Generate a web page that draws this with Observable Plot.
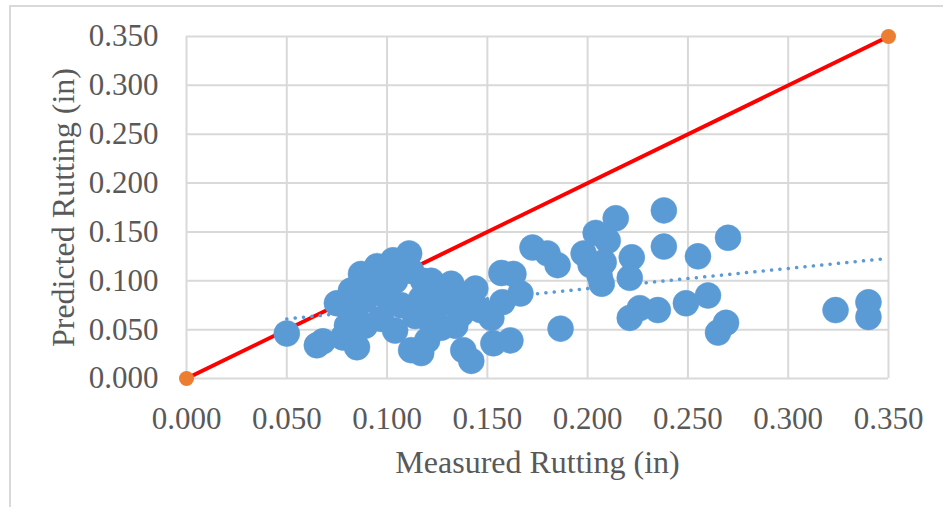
<!DOCTYPE html>
<html>
<head>
<meta charset="utf-8">
<script src="https://cdn.jsdelivr.net/npm/d3@7"></script>
<script src="https://cdn.jsdelivr.net/npm/@observablehq/plot@0.6"></script>
<style>
  html, body { margin: 0; padding: 0; background: #fff; }
  #wrap { position: relative; width: 943px; height: 507px; overflow: hidden; }
  #frame { position: absolute; left: 9px; top: 5px; width: 1000px; height: 600px;
           border-top: 2px solid #d9d9d9; border-left: 2px solid #d9d9d9; box-sizing: border-box; pointer-events: none; }
</style>
</head>
<body>
<div id="wrap"><div id="frame"></div></div>
<script>
// Measured rutting (in)
const measured = [
  0.050, 0.065, 0.068, 0.075, 0.078, 0.080, 0.085, 0.087, 0.095, 0.103,
  0.111, 0.118, 0.122, 0.127, 0.132, 0.144, 0.112, 0.117, 0.120, 0.138,
  0.142, 0.127, 0.137, 0.152, 0.153, 0.1615, 0.157, 0.163, 0.1665, 0.1575,
  0.082, 0.089, 0.092, 0.099, 0.104, 0.107, 0.097, 0.089, 0.104, 0.114,
  0.117, 0.126, 0.134, 0.112, 0.099, 0.082, 0.122, 0.1416, 0.1466, 0.134,
  0.1725, 0.180, 0.185, 0.1865, 0.198, 0.204, 0.210, 0.214, 0.208, 0.207,
  0.2015, 0.206, 0.222, 0.221, 0.238, 0.238, 0.255, 0.270, 0.221, 0.226,
  0.235, 0.249, 0.260, 0.269, 0.265, 0.3236, 0.340, 0.340
];
// Predicted rutting (in)
const predicted = [
  0.046, 0.034, 0.038, 0.077, 0.042, 0.054, 0.032, 0.107, 0.115, 0.121,
  0.128, 0.100, 0.100, 0.093, 0.097, 0.092, 0.029, 0.026, 0.039, 0.029,
  0.018, 0.052, 0.066, 0.062, 0.036, 0.039, 0.108, 0.107, 0.087, 0.078,
  0.090, 0.080, 0.095, 0.085, 0.100, 0.075, 0.061, 0.054, 0.049, 0.064,
  0.082, 0.075, 0.080, 0.110, 0.105, 0.070, 0.057, 0.080, 0.070, 0.054,
  0.134, 0.128, 0.116, 0.051, 0.128, 0.149, 0.141, 0.164, 0.119, 0.097,
  0.116, 0.105, 0.124, 0.103, 0.172, 0.135, 0.125, 0.144, 0.062, 0.072,
  0.070, 0.077, 0.085, 0.057, 0.047, 0.070, 0.078, 0.063
];
// Line of equality endpoints
const equalityX = [0.000, 0.350];
const equalityY = [0.000, 0.350];
// Linear trend line endpoints
const trendX = [0.050, 0.350];
const trendY = [0.061, 0.123];
// Ticks
const xTicks = [0, 0.05, 0.10, 0.15, 0.20, 0.25, 0.30, 0.35];
const yTicks = [0, 0.05, 0.10, 0.15, 0.20, 0.25, 0.30, 0.35];
const xTitle = "Measured Rutting (in)";
const yTitle = "Predicted Rutting (in)";

const points = measured.map((m, i) => ({x: m, y: predicted[i]}));
const equality = equalityX.map((x, i) => ({x, y: equalityY[i]}));
const trend = trendX.map((x, i) => ({x, y: trendY[i]}));

const chart = Plot.plot({
  width: 943,
  height: 507,
  marginLeft: 186,
  marginRight: 55,
  marginTop: 36,
  marginBottom: 129,
  style: {fontFamily: "'Liberation Serif', 'Times New Roman', serif", fontSize: "31px", color: "#595959", background: "transparent", overflow: "visible"},
  x: {domain: [0, 0.35], ticks: xTicks, tickFormat: d3.format(".3f"), tickSize: 0, tickPadding: 28, label: null},
  y: {domain: [0, 0.35], ticks: yTicks, tickFormat: d3.format(".3f"), tickSize: 0, tickPadding: 28, label: null},
  marks: [
    Plot.ruleX(xTicks, {stroke: "#d9d9d9", strokeWidth: 2}),
    Plot.ruleY(yTicks, {stroke: "#d9d9d9", strokeWidth: 2}),
    Plot.line(equality, {x: "x", y: "y", stroke: "#ff0000", strokeWidth: 4}),
    Plot.line(trend, {x: "x", y: "y", stroke: "#5b9bd5", strokeWidth: 3.5, strokeDasharray: "0.1 8.3", strokeLinecap: "round"}),
    Plot.dot(points, {x: "x", y: "y", r: 13, fill: "#5b9bd5", stroke: "#5b9bd5", strokeWidth: 0.5}),
    Plot.dot(equality, {x: "x", y: "y", r: 7.5, fill: "#ed7d31"}),
    Plot.text([xTitle], {frameAnchor: "bottom", dy: 84, lineAnchor: "middle", textAnchor: "middle", fill: "#595959", fontSize: 32}),
    Plot.text([yTitle], {frameAnchor: "left", dx: -123, dy: 0, rotate: -90, lineAnchor: "middle", textAnchor: "middle", fill: "#595959", fontSize: 32})
  ]
});
document.getElementById("wrap").prepend(chart);
</script>
</body>
</html>
